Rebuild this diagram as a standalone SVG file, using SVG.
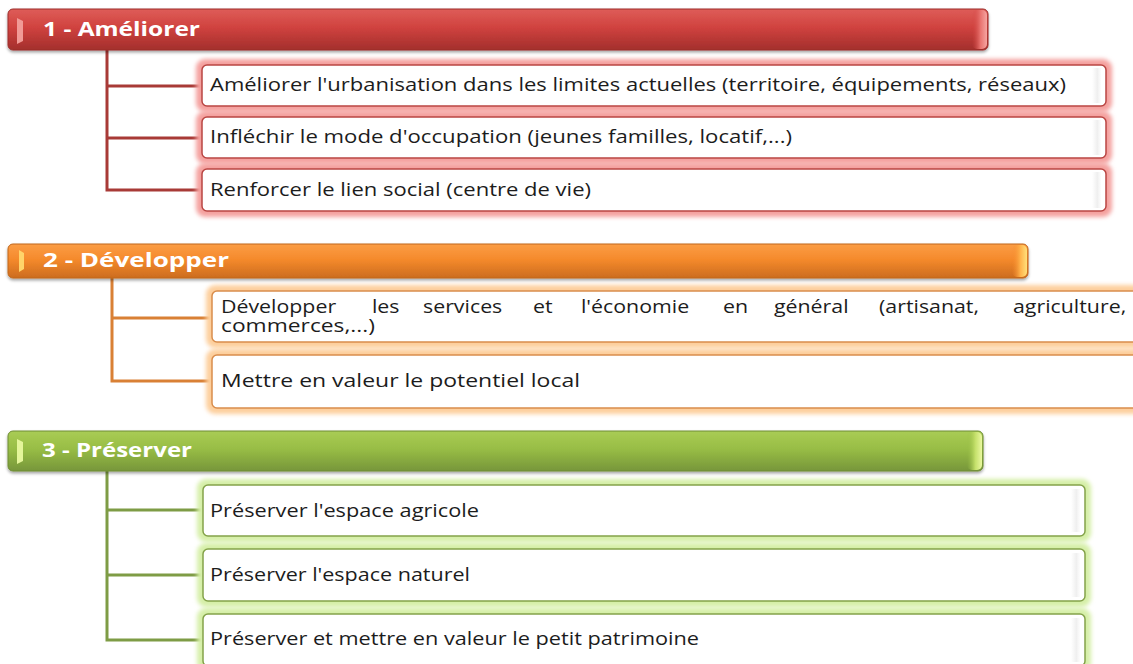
<svg xmlns="http://www.w3.org/2000/svg" width="1133" height="664" viewBox="0 0 1133 664">
<defs>
<linearGradient id="gRed" x1="0" y1="0" x2="0" y2="1">
<stop offset="0" stop-color="#de5d58"/><stop offset="0.45" stop-color="#d0423f"/><stop offset="1" stop-color="#a32f2c"/>
</linearGradient>
<linearGradient id="gOra" x1="0" y1="0" x2="0" y2="1">
<stop offset="0" stop-color="#fb9d45"/><stop offset="0.45" stop-color="#f58a2c"/><stop offset="1" stop-color="#cc6c1e"/>
</linearGradient>
<linearGradient id="gGre" x1="0" y1="0" x2="0" y2="1">
<stop offset="0" stop-color="#a9cc55"/><stop offset="0.45" stop-color="#98bd45"/><stop offset="1" stop-color="#77963a"/>
</linearGradient>
<linearGradient id="capRed" x1="0" y1="0" x2="1" y2="0">
<stop offset="0" stop-color="#d0423f" stop-opacity="0"/><stop offset="0.55" stop-color="#e8726e"/><stop offset="1" stop-color="#f6a5a1"/>
</linearGradient>
<linearGradient id="capOra" x1="0" y1="0" x2="1" y2="0">
<stop offset="0" stop-color="#f58a2c" stop-opacity="0"/><stop offset="0.55" stop-color="#ffb24a"/><stop offset="1" stop-color="#ffe07a"/>
</linearGradient>
<linearGradient id="capGre" x1="0" y1="0" x2="1" y2="0">
<stop offset="0" stop-color="#98bd45" stop-opacity="0"/><stop offset="0.55" stop-color="#c4e06a"/><stop offset="1" stop-color="#eaf8a0"/>
</linearGradient>
<linearGradient id="bevel" x1="0" y1="0" x2="1" y2="0">
<stop offset="0" stop-color="#f0f0f0" stop-opacity="0"/><stop offset="0.6" stop-color="#efefef"/><stop offset="1" stop-color="#f7f7f7" stop-opacity="0.4"/>
</linearGradient>
<filter id="blur" x="-5%" y="-30%" width="110%" height="160%"><feGaussianBlur stdDeviation="2"/></filter>
<filter id="shadow" x="-2%" y="-20%" width="104%" height="160%"><feDropShadow dx="0" dy="2" stdDeviation="1.5" flood-color="#000" flood-opacity="0.35"/></filter>
</defs>
<style>
.hdr-t{font-family:"Open Sans","Liberation Sans",sans-serif;font-weight:bold;font-size:19px;fill:#ffffff}
.t{font-family:"Open Sans","Liberation Sans",sans-serif;font-size:17.5px;fill:#1c1c1c}
.glow-r{fill:#f4a19f}
.glow-o{fill:#fdcf9c}
.glow-g{fill:#d6efa8}
.box{fill:#ffffff;stroke-width:1.5}
.box-r{stroke:#b94643}
.box-o{stroke:#d98d4c}
.box-g{stroke:#84a24a}
.bev{fill:url(#bevel)}
.con{fill:none;stroke-width:3}
</style>
<rect width="1133" height="664" fill="#ffffff"/>

<g id="connectors">
<path class="con" stroke="#a83a37" d="M107,50 V190 H202 M107,86 H202 M107,138 H202"/>
<path class="con" stroke="#d98035" d="M112,278 V381 H212 M112,318 H212"/>
<path class="con" stroke="#7e9c45" d="M107,471 V640 H203 M107,510 H203 M107,575 H203"/>
</g>

<g id="h1">
<rect x="8" y="9" width="980" height="41" rx="5" fill="url(#gRed)" stroke="#9c2e2b" stroke-width="1" filter="url(#shadow)"/>
<path d="M17,18 L23,21 L23,41 L17,44 Z" fill="#f19a96"/>
<rect x="972" y="10" width="15" height="39" rx="5" fill="url(#capRed)"/>
<text class="hdr-t" x="43" y="36" textLength="157" lengthAdjust="spacingAndGlyphs">1 - Améliorer</text>
</g>

<g id="n1a">
<rect class="glow-r" x="196" y="59" width="916" height="53" rx="9" filter="url(#blur)"/>
<rect class="box box-r" x="202" y="65" width="904" height="41" rx="5"/>
<rect class="bev" x="1092" y="68" width="9" height="35"/>
<text class="t" x="210" y="91" textLength="856" lengthAdjust="spacingAndGlyphs">Améliorer l'urbanisation dans les limites actuelles (territoire, équipements, réseaux)</text>
</g>
<g id="n1b">
<rect class="glow-r" x="196" y="111" width="916" height="53" rx="9" filter="url(#blur)"/>
<rect class="box box-r" x="202" y="117" width="904" height="41" rx="5"/>
<rect class="bev" x="1092" y="120" width="9" height="35"/>
<text class="t" x="210" y="143" textLength="582" lengthAdjust="spacingAndGlyphs">Infléchir le mode d'occupation (jeunes familles, locatif,...)</text>
</g>
<g id="n1c">
<rect class="glow-r" x="196" y="163" width="916" height="54" rx="9" filter="url(#blur)"/>
<rect class="box box-r" x="202" y="169" width="904" height="42" rx="5"/>
<rect class="bev" x="1092" y="172" width="9" height="36"/>
<text class="t" x="210" y="196" textLength="381" lengthAdjust="spacingAndGlyphs">Renforcer le lien social (centre de vie)</text>
</g>

<g id="h2">
<rect x="8" y="244" width="1020" height="34" rx="5" fill="url(#gOra)" stroke="#c0661c" stroke-width="1" filter="url(#shadow)"/>
<path d="M19,250 L24,253 L24,269 L19,272 Z" fill="#ffd46a"/>
<rect x="1012" y="245" width="15" height="32" rx="5" fill="url(#capOra)"/>
<text class="hdr-t" x="43" y="267" textLength="186" lengthAdjust="spacingAndGlyphs">2 - Développer</text>
</g>

<g id="n2a">
<rect class="glow-o" x="206" y="285" width="940" height="63" rx="9" filter="url(#blur)"/>
<rect class="box box-o" x="212" y="291" width="940" height="51" rx="5" fill="#fffdfa"/>
<text class="t" y="313" transform="scale(1.22,1)"><tspan x="181.1">Développer</tspan><tspan x="304.9">les</tspan><tspan x="346.7">services</tspan><tspan x="436.9">et</tspan><tspan x="476.2">l'économie</tspan><tspan x="592.6">en</tspan><tspan x="634.4">général</tspan><tspan x="720.5">(artisanat,</tspan><tspan x="830.3">agriculture,</tspan></text>
<text class="t" x="221" y="332" textLength="154" lengthAdjust="spacingAndGlyphs">commerces,...)</text>
</g>
<g id="n2b">
<rect class="glow-o" x="206" y="349" width="940" height="65" rx="9" filter="url(#blur)"/>
<rect class="box box-o" x="212" y="355" width="940" height="53" rx="5" fill="#fffdfa"/>
<text class="t" x="221" y="387" textLength="359" lengthAdjust="spacingAndGlyphs">Mettre en valeur le potentiel local</text>
</g>

<g id="h3">
<rect x="8" y="431" width="975" height="40" rx="5" fill="url(#gGre)" stroke="#6f8c35" stroke-width="1" filter="url(#shadow)"/>
<path d="M17,439 L23,442 L23,461 L17,464 Z" fill="#e4f59a"/>
<rect x="967" y="432" width="15" height="38" rx="5" fill="url(#capGre)"/>
<text class="hdr-t" x="42" y="457" textLength="150" lengthAdjust="spacingAndGlyphs">3 - Préserver</text>
</g>

<g id="n3a">
<rect class="glow-g" x="197" y="479" width="894" height="63" rx="9" filter="url(#blur)"/>
<rect class="box box-g" x="203" y="485" width="882" height="51" rx="5"/>
<rect class="bev" x="1071" y="489" width="9" height="43"/>
<text class="t" x="210" y="517" textLength="269" lengthAdjust="spacingAndGlyphs">Préserver l'espace agricole</text>
</g>
<g id="n3b">
<rect class="glow-g" x="197" y="543" width="894" height="64" rx="9" filter="url(#blur)"/>
<rect class="box box-g" x="203" y="549" width="882" height="52" rx="5"/>
<rect class="bev" x="1071" y="553" width="9" height="44"/>
<text class="t" x="210" y="581" textLength="260" lengthAdjust="spacingAndGlyphs">Préserver l'espace naturel</text>
</g>
<g id="n3c">
<rect class="glow-g" x="197" y="608" width="894" height="64" rx="9" filter="url(#blur)"/>
<rect class="box box-g" x="203" y="614" width="882" height="52" rx="5"/>
<rect class="bev" x="1071" y="618" width="9" height="44"/>
<text class="t" x="210" y="645" textLength="489" lengthAdjust="spacingAndGlyphs">Préserver et mettre en valeur le petit patrimoine</text>
</g>
</svg>
